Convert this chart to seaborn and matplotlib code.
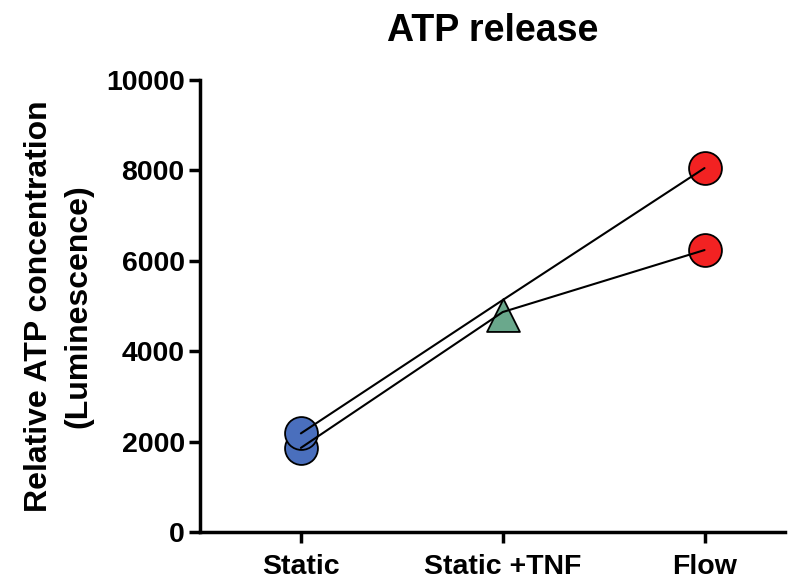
import matplotlib
matplotlib.use("Agg")
import matplotlib.pyplot as plt
import seaborn as sns
import pandas as pd

# ---- data ----
groups = ["Static", "Static +TNF", "Flow"]
pair_ids = ["B", "A"]                 # B = lower pair, A = upper pair
static_vals = [1860, 2180]
tnf_line_vals = [4862, 5127]
flow_vals = [6232, 8044]
tnf_marker_vals = [4795]
yticks = [0, 2000, 4000, 6000, 8000, 10000]

title = "ATP release"
ylabel = "Relative ATP concentration\n(Luminescence)"

sns.set_style("ticks")
plt.rcParams["font.family"] = ["Liberation Sans", "DejaVu Sans"]
plt.rcParams["font.weight"] = "bold"
plt.rcParams["text.color"] = "black"
plt.rcParams["axes.labelcolor"] = "black"
plt.rcParams["xtick.color"] = "black"
plt.rcParams["ytick.color"] = "black"

lines_df = pd.DataFrame({
    "group": groups * len(pair_ids),
    "pair": [p for p in pair_ids for _ in groups],
    "value": [v for i in range(len(pair_ids))
              for v in (static_vals[i], tnf_line_vals[i], flow_vals[i])],
})
pos = {g: i for i, g in enumerate(groups)}
lines_df["x"] = lines_df["group"].map(pos)

fig = plt.figure(figsize=(7.98, 5.81), dpi=100)
ax = fig.add_axes([0.2506, 0.0843, 0.7334, 0.7787])

ms = 560
# markers
sdf = pd.DataFrame({"x": [pos["Static"]] * len(static_vals), "y": static_vals})
sns.scatterplot(data=sdf, x="x", y="y", ax=ax, s=ms, color="#4a6fbd",
                edgecolor="black", linewidth=1.3, marker="o", zorder=2)
tdf = pd.DataFrame({"x": [pos["Static +TNF"]] * len(tnf_marker_vals), "y": tnf_marker_vals})
sns.scatterplot(data=tdf, x="x", y="y", ax=ax, s=ms, color="#6aa88c",
                edgecolor="black", linewidth=1.3, marker="^", zorder=2)
fdf = pd.DataFrame({"x": [pos["Flow"]] * len(flow_vals), "y": flow_vals})
sns.scatterplot(data=fdf, x="x", y="y", ax=ax, s=ms, color="#f22222",
                edgecolor="black", linewidth=1.3, marker="o", zorder=2)

# connecting lines (on top of markers)
sns.lineplot(data=lines_df, x="x", y="value", units="pair", estimator=None,
             color="black", linewidth=1.5, ax=ax, zorder=3, legend=False)

ax.set_xlim(-0.5, 2.4)
ax.set_ylim(0, 10000)
ax.set_xticks(range(len(groups)))
ax.set_xticklabels(groups)
ax.set_yticks(yticks)
ax.set_yticklabels([str(t) for t in yticks])
ax.tick_params(axis="both", labelsize=20.5, width=2.5, length=8, color="black",
               labelcolor="black")
for lab in ax.get_xticklabels() + ax.get_yticklabels():
    lab.set_fontweight("bold")
ax.tick_params(axis="x", pad=8)
ax.tick_params(axis="y", pad=3)

sns.despine(ax=ax)
for side in ["left", "bottom"]:
    ax.spines[side].set_linewidth(2.5)
    ax.spines[side].set_color("black")

ax.set_xlabel("")
ax.set_ylabel(ylabel, fontsize=23, fontweight="bold", labelpad=9,
              linespacing=1.4, color="black")
ax.set_title(title, fontsize=27, fontweight="bold", pad=28, color="black")

fig.savefig("out.png", dpi=100)
